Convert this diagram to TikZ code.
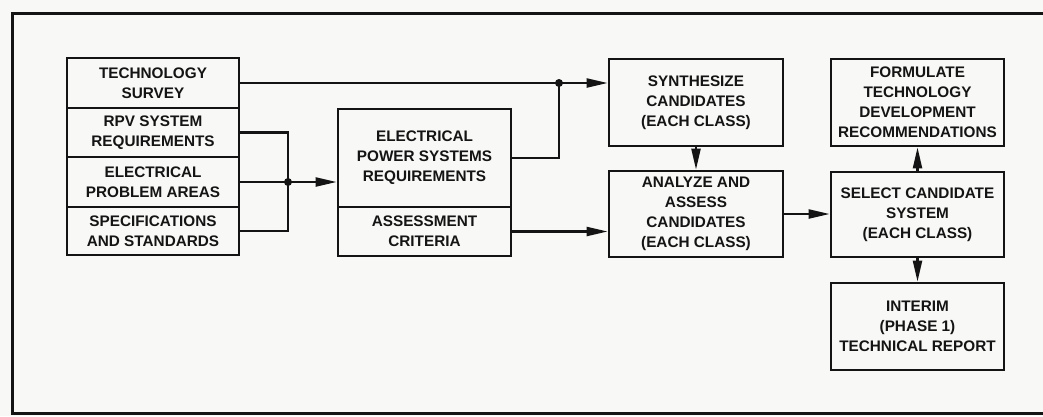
\documentclass[tikz,border=0pt]{standalone}
\usepackage{fontspec}
\setmainfont{Liberation Sans}
\usetikzlibrary{arrows.meta}
\definecolor{paper}{RGB}{248,248,246}
\definecolor{ink}{RGB}{20,20,20}
\begin{document}
\begin{tikzpicture}[x=1pt,y=-1pt,
  box/.style={draw=ink, line width=2.7pt, inner sep=0pt, align=center, text=ink,
    font=\bfseries\fontsize{15.3}{20}\selectfont},
  conn/.style={draw=ink, line width=2.2pt},
  arr/.style={conn, -{Triangle[length=21pt,width=9pt]}},
  jdot/.style={circle, fill=ink, inner sep=0pt, minimum size=8pt},
  frameline/.style={draw=ink, line width=3pt}]
\fill[paper] (0,0) rectangle (1043,416);
\useasboundingbox (0,0) rectangle (1043,416);
\draw[frameline] (1043,13) -- (12,13) -- (12,413) -- (1043,413);
% left stack
\node[box, minimum width=172pt, minimum height=50pt] (tech) at (153,83) {TECHNOLOGY\\SURVEY};
\node[box, minimum width=172pt, minimum height=49pt] (rpv) at (153,132.5) {RPV SYSTEM\\REQUIREMENTS};
\node[box, minimum width=172pt, minimum height=50pt] (elec) at (153,182) {ELECTRICAL\\PROBLEM AREAS};
\node[box, minimum width=172pt, minimum height=48pt] (spec) at (153,231) {SPECIFICATIONS\\AND STANDARDS};
% middle
\node[box, minimum width=173pt, minimum height=98pt] (eps) at (424.5,158) {ELECTRICAL\\POWER SYSTEMS\\REQUIREMENTS};
\node[box, minimum width=173pt, minimum height=49pt] (assess) at (424.5,231.5) {ASSESSMENT\\CRITERIA};
% third column
\node[box, minimum width=174pt, minimum height=87pt] (synth) at (696,102.5) {SYNTHESIZE\\CANDIDATES\\(EACH CLASS)};
\node[box, minimum width=174pt, minimum height=86pt] (analyze) at (696,214) {ANALYZE AND\\ASSESS\\CANDIDATES\\(EACH CLASS)};
% fourth column
\node[box, minimum width=173pt, minimum height=87pt] (form) at (917.5,102.5) {FORMULATE\\TECHNOLOGY\\DEVELOPMENT\\RECOMMENDATIONS};
\node[box, minimum width=173pt, minimum height=85pt] (select) at (917.5,214.5) {SELECT CANDIDATE\\SYSTEM\\(EACH CLASS)};
\node[box, minimum width=173pt, minimum height=87pt] (interim) at (917.5,326.5) {INTERIM\\(PHASE 1)\\TECHNICAL REPORT};
% junctions
\node[jdot] (j1) at (559,83) {};
\node[jdot] (j2) at (288,182) {};
% connectors
\draw[arr] (tech.east) -- (tech.east -| synth.west);
\draw[conn] (eps.east) -| (j1.center);
\draw[conn] (rpv.east) -| (j2.center);
\draw[conn] (spec.east) -| (j2.center);
\draw[conn] (elec.east) -- (j2.center);
\draw[arr] (j2.center) -- (j2 -| eps.west);
\draw[arr] (assess.east) -- (assess.east -| analyze.west);
\draw[arr] (synth.south) -- (analyze.north);
\draw[arr] (analyze.east) -- (analyze.east -| select.west);
\draw[arr] (select.north) -- (form.south);
\draw[arr] (select.south) -- (interim.north);
\end{tikzpicture}
\end{document}
